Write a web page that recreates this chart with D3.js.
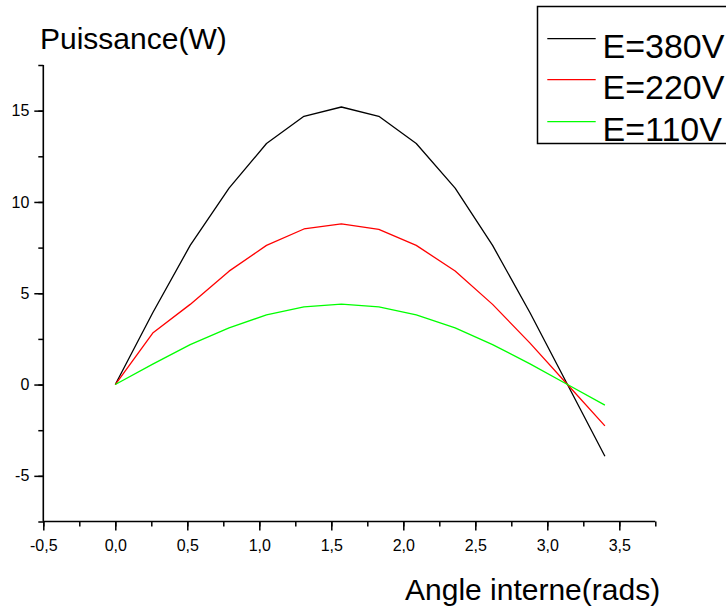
<!DOCTYPE html>
<html>
<head>
<meta charset="utf-8">
<script src="https://cdn.jsdelivr.net/npm/d3@7/dist/d3.min.js"></script>
<style>
  html, body { margin: 0; padding: 0; background: #fff; }
  svg { display: block; font-family: "Liberation Sans", Arial, sans-serif; }
</style>
</head>
<body>
<svg id="chart" width="726" height="612"></svg>
<script>
// Angle interne (rad), pas de pi/12
const angles = [0, 0.26, 0.52, 0.79, 1.05, 1.31, 1.57, 1.83, 2.09, 2.36, 2.62, 2.88, 3.14, 3.40];

// Puissance (W) pour chaque tension
const p380 = [0, 3.93, 7.62, 10.76, 13.2, 14.69, 15.2, 14.69, 13.2, 10.76, 7.62, 3.93, 0, -3.93];
const p220 = [0, 2.82, 4.39, 6.21, 7.62, 8.52, 8.8, 8.5, 7.62, 6.22, 4.39, 2.27, 0, -2.26];
const p110 = [0, 1.12, 2.19, 3.1, 3.82, 4.25, 4.4, 4.25, 3.82, 3.1, 2.19, 1.13, 0, -1.13];

const seriesNames = ["E=380V", "E=220V", "E=110V"];
const seriesColors = ["#000000", "#ff0000", "#00ff00"];
const seriesValues = [p380, p220, p110];

const xTicks = [-0.5, 0, 0.5, 1, 1.5, 2, 2.5, 3, 3.5];
const yTicks = [-5, 0, 5, 10, 15];

const svg = d3.select("#chart");

const x = d3.scaleLinear().domain([-0.5, 3.75]).range([43.3, 655.3]);
const y = d3.scaleLinear().domain([-7.5, 17.5]).range([521.5, 65]);

// Libellés : virgule décimale et trait d'union comme signe moins
const fmtX = d => d3.format(".1f")(d).replace(".", ",").replace("\u2212", "-");
const fmtY = d => String(d);

// Axe X : graduations principales et secondaires
const xAxis = svg.append("g").attr("transform", `translate(0,${y(-7.5)})`);
xAxis.call(d3.axisBottom(x).tickValues(d3.range(-0.5, 3.76, 0.25)).tickSize(5).tickFormat(""));
xAxis.append("g").call(d3.axisBottom(x).tickValues(xTicks).tickSize(9).tickPadding(9).tickFormat(fmtX));
xAxis.selectAll(".domain").remove();
xAxis.append("line").attr("x1", x(-0.5)).attr("x2", x(3.75))
  .attr("stroke", "#000").attr("stroke-width", 1.6);

// Axe Y
const yAxis = svg.append("g").attr("transform", `translate(${x(-0.5)},0)`);
yAxis.call(d3.axisLeft(y).tickValues(d3.range(-7.5, 17.51, 2.5)).tickSize(5).tickFormat(""));
yAxis.append("g").call(d3.axisLeft(y).tickValues(yTicks).tickSize(9).tickPadding(5).tickFormat(fmtY));
yAxis.selectAll(".domain").remove();
yAxis.append("line").attr("y1", y(-7.5)).attr("y2", y(17.5))
  .attr("stroke", "#000").attr("stroke-width", 1.6);

svg.selectAll(".tick line").attr("stroke", "#000").attr("stroke-width", 1.5);
svg.selectAll(".tick text").attr("fill", "#000").attr("font-size", 16)
  .attr("font-family", "'Liberation Sans', Arial, sans-serif");

// Courbes
const line = d3.line().x((d, i) => x(angles[i])).y(d => y(d));
seriesValues.forEach((vals, k) => {
  svg.append("path")
    .datum(vals)
    .attr("d", line)
    .attr("fill", "none")
    .attr("stroke", seriesColors[k])
    .attr("stroke-width", 1.3)
    .attr("stroke-linejoin", "round");
});

// Titres des axes
svg.append("text").attr("x", 40).attr("y", 48.5)
  .attr("font-size", 30).attr("fill", "#000").text("Puissance(W)");
svg.append("text").attr("x", 405).attr("y", 599.5)
  .attr("font-size", 30).attr("fill", "#000").text("Angle interne(rads)");

// Légende
const legend = svg.append("g");
legend.append("rect").attr("x", 537.5).attr("y", 6.5).attr("width", 210).attr("height", 137)
  .attr("fill", "#fff").attr("stroke", "#000").attr("stroke-width", 1.5);
const legendY = [38.7, 79.7, 121.7];
seriesNames.forEach((name, k) => {
  legend.append("line").attr("x1", 547.3).attr("x2", 595.7)
    .attr("y1", legendY[k]).attr("y2", legendY[k])
    .attr("stroke", seriesColors[k]).attr("stroke-width", 1.3);
  legend.append("text").attr("x", 602.5).attr("y", legendY[k] + 7.5 + 12)
    .attr("font-size", 34).attr("fill", "#000").text(name);
});
</script>
</body>
</html>
